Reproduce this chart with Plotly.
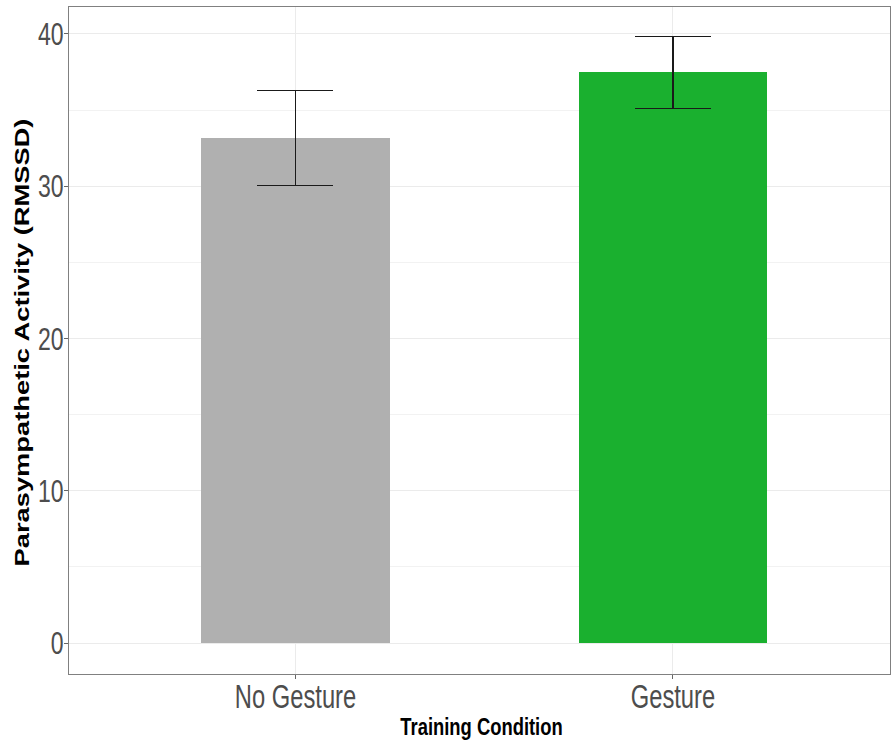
import plotly.graph_objects as go

# Mean RMSSD per training condition, with error bar bounds
conditions = ["No Gesture", "Gesture"]
means = [33.15, 37.48]
upper = [36.28, 39.82]
lower = [30.06, 35.12]
bar_colors = ["#b0b0b0", "#1ab02f"]
y_ticks = [0, 10, 20, 30, 40]

x_pos = list(range(1, len(conditions) + 1))
err_plus = [u - m for u, m in zip(upper, means)]
err_minus = [m - l for m, l in zip(means, lower)]

sans = "Liberation Sans, Arial, sans-serif"

fig = go.Figure()
fig.add_trace(go.Bar(
    x=x_pos,
    y=means,
    width=0.5,
    marker=dict(color=bar_colors, line=dict(width=0)),
    error_y=dict(type="data", symmetric=False, array=err_plus, arrayminus=err_minus,
                 color="#1a1a1a", thickness=1.4, width=38),
    showlegend=False,
    hoverinfo="skip",
))

grid = "#ebebeb"
fig.update_layout(
    width=891, height=740,
    margin=dict(l=69, r=1, t=7, b=66),
    plot_bgcolor="white", paper_bgcolor="white",
    bargap=0,
    xaxis=dict(
        range=[0.4, 2.575],
        tickvals=x_pos, ticktext=conditions,
        tickfont=dict(family=sans, size=33, color="#4d4d4d"),
        showgrid=True, gridcolor=grid, gridwidth=1,
        ticks="outside", ticklen=4, tickcolor="#666666", tickwidth=1,
        showline=True, linecolor="#808080", linewidth=1, mirror=True,
        zeroline=False, automargin=False,
        title=dict(text="<b>Training Condition</b>", standoff=2,
                   font=dict(family=sans, size=23, color="black")),
    ),
    yaxis=dict(
        range=[-2.03, 41.77],
        tickvals=y_ticks,
        tickfont=dict(family=sans, size=32, color="#4d4d4d"),
        showgrid=True, gridcolor=grid, gridwidth=1,
        minor=dict(dtick=5, showgrid=True, gridcolor="#f2f2f2", gridwidth=1),
        ticks="outside", ticklen=4, tickcolor="#666666", tickwidth=1,
        showline=True, linecolor="#808080", linewidth=1, mirror=True,
        zeroline=False, automargin=False,
        title=dict(text="<b>Parasympathetic Activity (RMSSD)</b>", standoff=10,
                   font=dict(family=sans, size=21, color="black")),
    ),
)

# Condensed lettering: squeeze tick labels and titles along their baseline,
# nudging them closer to the axes
condense_js = """
var gd = document.getElementById('{plot_id}');
function squeeze(el, s, dx, dy) {
  var x = parseFloat(el.getAttribute('x')) || 0;
  var y = parseFloat(el.getAttribute('y')) || 0;
  var t = el.getAttribute('transform') || '';
  el.setAttribute('transform', t + ' translate(' + (x + dx) + ',' + (y + dy) + ') scale(' + s + ',1) translate(' + (-x) + ',' + (-y) + ')');
}
gd.querySelectorAll('.xtick text').forEach(function (el) { squeeze(el, 0.72, 0, -11); });
gd.querySelectorAll('.ytick text').forEach(function (el) { squeeze(el, 0.72, 6, 0); });
gd.querySelectorAll('text.xtitle').forEach(function (el) { squeeze(el, 0.8, 2, 0); });
gd.querySelectorAll('text.ytitle').forEach(function (el) { squeeze(el, 1.30, -2, 10); });
"""

fig.write_html("out.html", post_script=condense_js)
